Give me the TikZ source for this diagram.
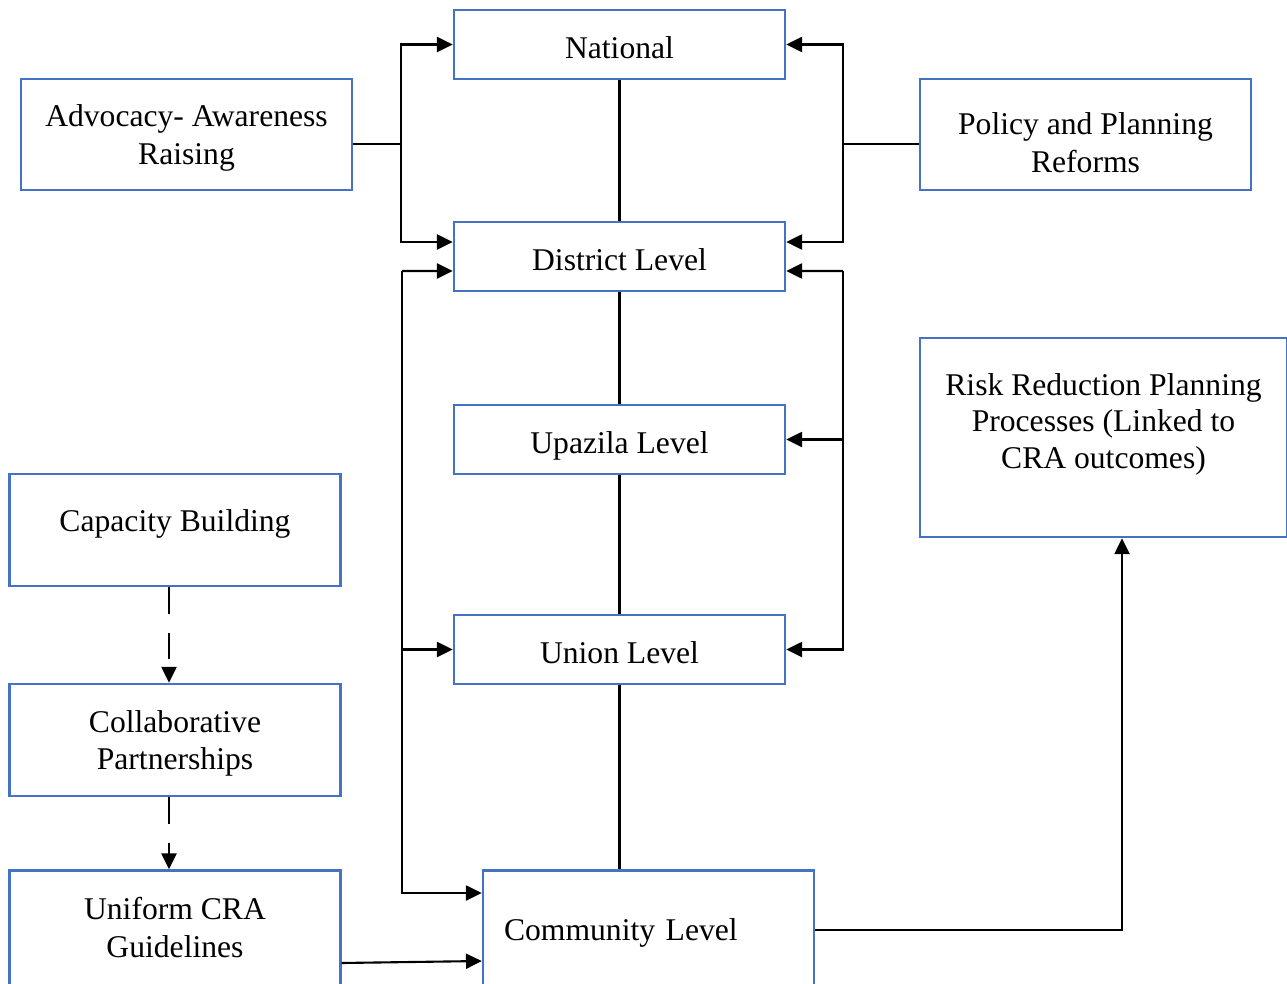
\documentclass[tikz,border=0pt]{standalone}
\usepackage{fontspec}
\setmainfont{Liberation Serif}
\usetikzlibrary{arrows.meta}
\definecolor{boxblue}{RGB}{68,114,196}
\begin{document}
\begin{tikzpicture}[
  x=0.02cm, y=-0.02cm,
  box/.style={rectangle, draw=boxblue, line width=1.4pt, minimum width=6.62cm,
              minimum height=#1, inner sep=0pt, align=center,
              font=\fontsize{18}{21.5}\selectfont},
  box/.default={1.38cm},
  level/.style={box, text height=15.7pt, text depth=0pt},
  arr/.style={-{Triangle[length=9pt, width=8.5pt]}, line width=1.2pt},
  link/.style={line width=1.2pt},
  dashedarr/.style={arr, dash pattern=on 15pt off 11pt}
]
  \useasboundingbox (0,0) rectangle (1287,983);

  % Niveaux
  \node[level] (nat) at (619.5,44.5) {National};
  \node[level] (dist) at (619.5,256.5) {District Level};
  \node[level] (upz) at (619.5,439.5) {Upazila Level};
  \node[level] (uni) at (619.5,649.5) {Union Level};
  \node[box=2.38cm, text width=5.78cm, inner xsep=0.42cm, align=left, text depth=1.1pt] (com) at (648.5,930) {Community Level};

  % Cotes
  \node[box=2.22cm, text depth=0pt] (adv) at (186.5,134.5) {Advocacy- Awareness\\Raising};
  \node[box=2.22cm, text height=43.4pt, text depth=0pt] (pol) at (1085.5,134.5) {Policy and Planning\\Reforms};
  \node[box=3.98cm, minimum width=7.34cm, text depth=18.8pt,
        font=\fontsize{18}{20.7}\selectfont] (risk) at (1103.5,437.5) {Risk Reduction Planning\\Processes (Linked to\\CRA outcomes)};

  % Colonne gauche
  \node[box=2.24cm, text depth=11.3pt] (cap) at (175,530) {Capacity Building};
  \node[box=2.24cm, text depth=0pt] (collab) at (175,740) {Collaborative\\Partnerships};
  \node[box=2.38cm, text depth=2.8pt] (crad) at (175,930) {Uniform CRA\\Guidelines};

  % Lignes verticales
  \draw[link] (nat.south) -- (dist.north);
  \draw[link] (dist.south) -- (upz.north);
  \draw[link] (upz.south) -- (uni.north);
  \draw[link] (uni.south) -- (uni.south |- com.north);

  % Advocacy
  \coordinate (advj) at (401,144);
  \draw[link] (adv.east |- advj) -- (advj);
  \draw[arr] (advj) |- (nat.west);
  \draw[arr] (advj) |- ([yshift=0.29cm]dist.west);

  % Policy
  \coordinate (polj) at (843,144);
  \draw[link] (pol.west |- polj) -- (polj);
  \draw[arr] (polj) |- (nat.east);
  \draw[arr] (polj) |- ([yshift=0.29cm]dist.east);

  % Boucle gauche
  \coordinate (ltop) at (402,271);
  \draw[arr] (ltop) -- ([yshift=-0.29cm]dist.west);
  \draw[arr] (ltop) |- ([yshift=0.74cm]com.west);
  \draw[arr] (ltop |- uni.west) -- (uni.west);

  % Boucle droite
  \coordinate (rtop) at (843,271);
  \draw[arr] (rtop) -- ([yshift=-0.29cm]dist.east);
  \draw[arr] (rtop) |- (uni.east);
  \draw[arr] (rtop |- upz.east) -- (upz.east);

  % Pointilles
  \draw[dashedarr] ([xshift=-0.12cm]cap.south) -- ([xshift=-0.12cm]collab.north);
  \draw[dashedarr] ([xshift=-0.12cm]collab.south) -- ([xshift=-0.12cm]crad.north);

  % Vers Community et Risk
  \draw[arr] ([yshift=-0.66cm]crad.east) -- ([yshift=-0.62cm]com.west);
  \draw[arr] (com.east) -| ([xshift=0.37cm]risk.south);
\end{tikzpicture}
\end{document}
